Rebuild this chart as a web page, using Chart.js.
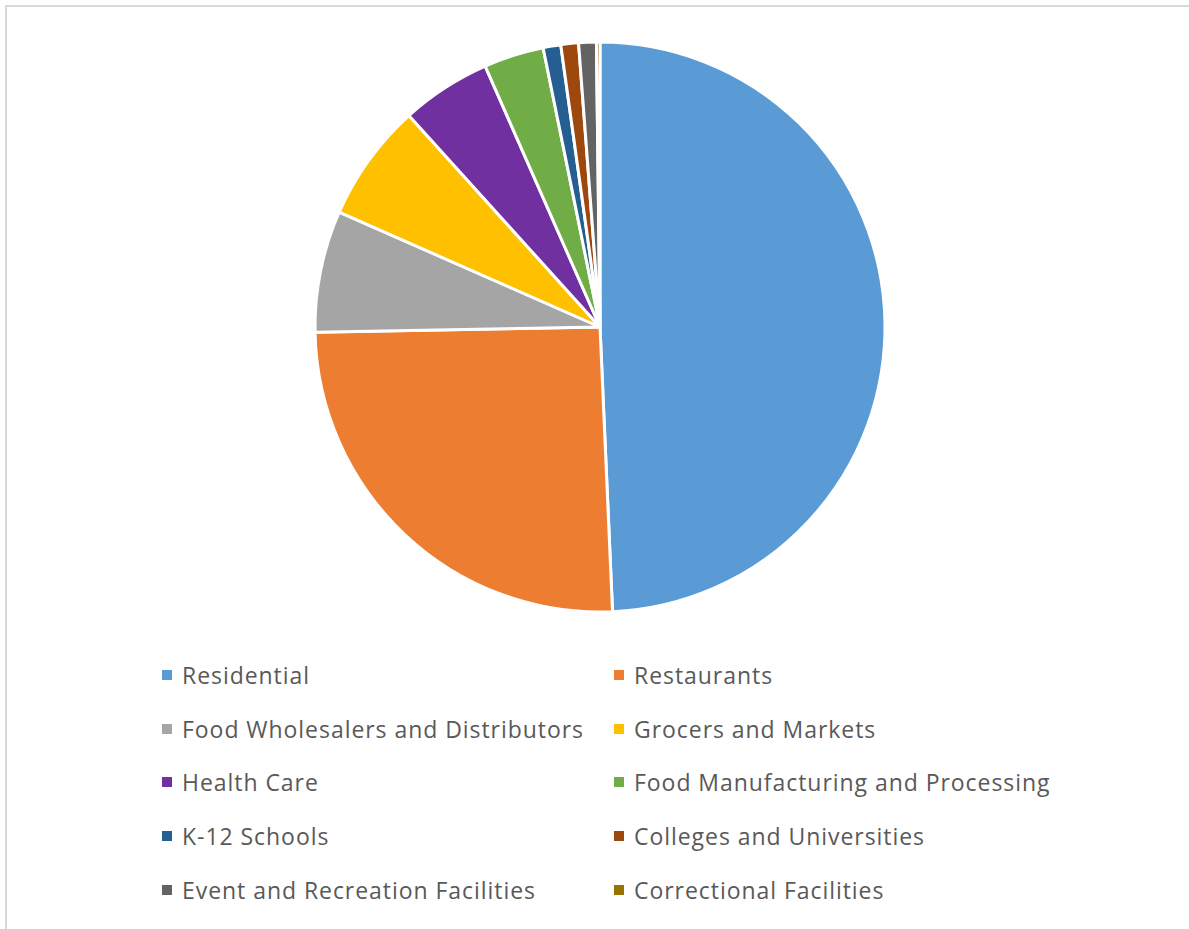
<!DOCTYPE html>
<html>
<head>
<meta charset="utf-8">
<script src="https://cdn.jsdelivr.net/npm/chart.js@4"></script>
<style>
  html, body { margin: 0; padding: 0; background: #fff; }
  body { width: 1189px; height: 929px; position: relative; overflow: hidden; font-family: "Open Sans", sans-serif; }
  #frame {
    position: absolute; left: 5px; top: 5px; right: 0; bottom: 0;
    border-top: 2px solid #d9d9d9; border-left: 2px solid #d9d9d9;
  }
  #pieWrap { position: absolute; left: 300px; top: 27px; width: 600px; height: 600px; }
  #legend {
    position: absolute; left: 162px; top: 660px;
    display: grid; grid-template-columns: 452px 440px; grid-auto-rows: 53.7px;
  }
  .item { display: flex; align-items: center; height: 30px; color: #595959; font-size: 23px; letter-spacing: 0.95px; white-space: nowrap; }
  .box { width: 10px; height: 10px; margin-right: 10px; flex: none; }
</style>
</head>
<body>
<div id="frame"></div>
<div id="pieWrap"><canvas id="pieChart"></canvas></div>
<div id="legend"></div>
<script>
// Data (shares in %)
const categories = [
    'Residential', 'Restaurants', 'Food Wholesalers and Distributors', 'Grocers and Markets',
    'Health Care', 'Food Manufacturing and Processing', 'K-12 Schools',
    'Colleges and Universities', 'Event and Recreation Facilities', 'Correctional Facilities'
];
const shares = [49.3, 25.4, 6.9, 6.7, 5.1, 3.4, 1.0, 1.0, 1.0, 0.2];
const colors = [
    '#5B9BD5', '#ED7D31', '#A5A5A5', '#FFC000',
    '#7030A0', '#70AD47', '#255E91', '#9E480E', '#636363', '#997300'
];

const chart = new Chart(document.getElementById('pieChart'), {
    type: 'pie',
    data: {
        labels: categories,
        datasets: [{
            data: shares,
            backgroundColor: colors,
            borderColor: '#ffffff',
            borderWidth: 3,
            radius: 285
        }]
    },
    options: {
        responsive: true,
        maintainAspectRatio: false,
        animation: false,
        layout: { padding: 0 },
        plugins: {
            legend: { display: false },
            tooltip: { enabled: false }
        }
    }
});

// HTML legend in two columns, built from the chart's own labels
const legendEl = document.getElementById('legend');
chart.options.plugins.legend.labels.generateLabels(chart).forEach(item => {
    const row = document.createElement('div');
    row.className = 'item';
    const box = document.createElement('span');
    box.className = 'box';
    box.style.background = item.fillStyle;
    const txt = document.createElement('span');
    txt.textContent = item.text;
    row.appendChild(box);
    row.appendChild(txt);
    legendEl.appendChild(row);
});
</script>
</body>
</html>
